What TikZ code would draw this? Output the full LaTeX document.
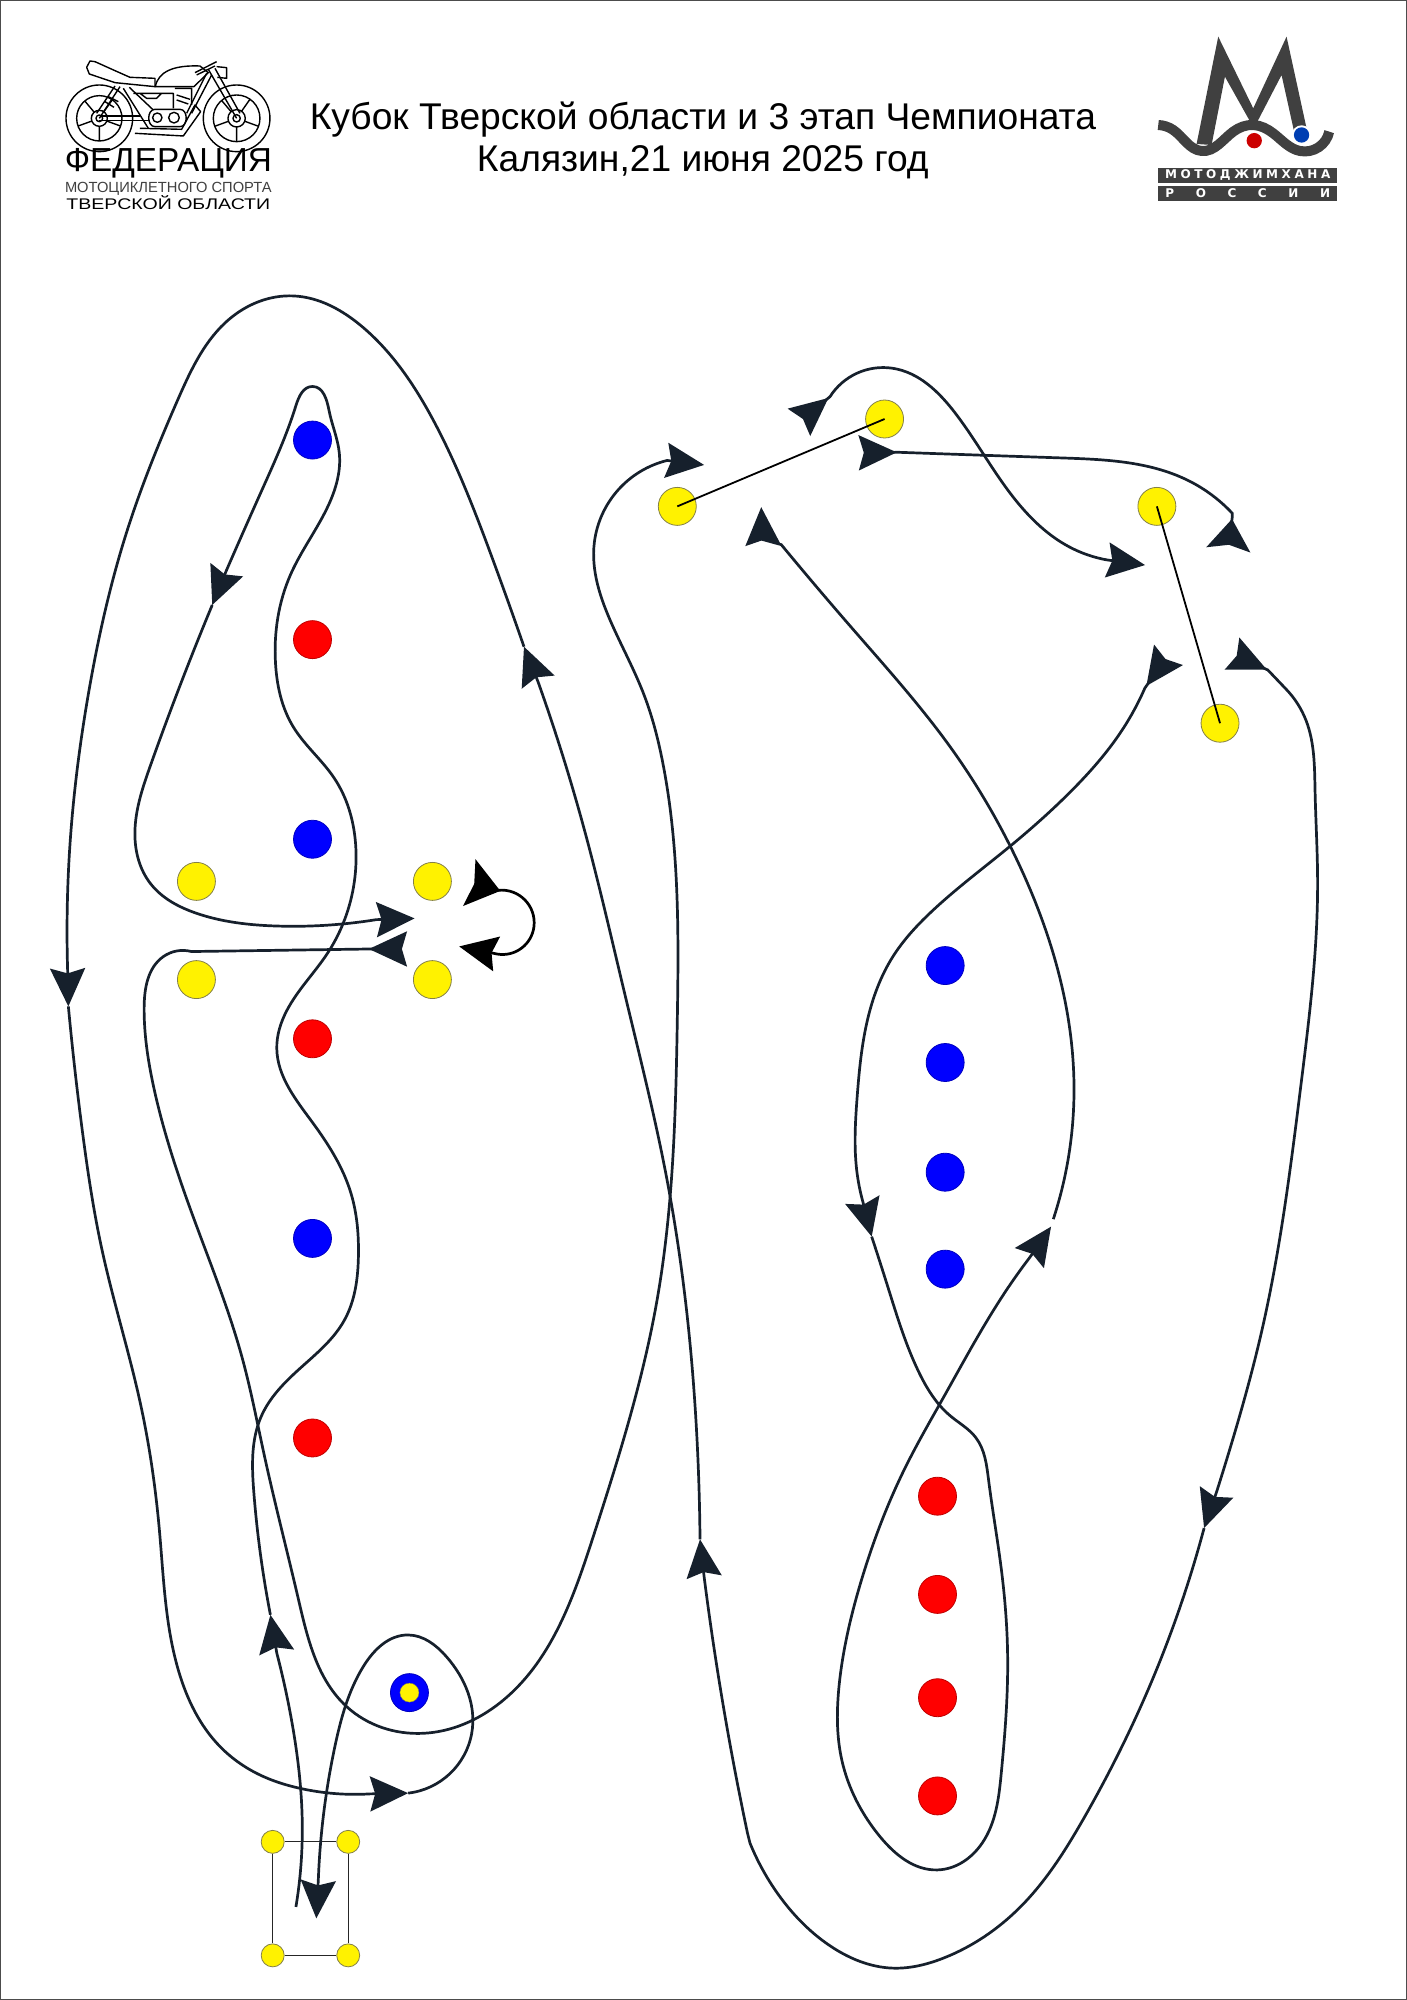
\documentclass[tikz,border=0pt]{standalone}
\usepackage{graphicx}
\usepackage{fontspec}
\setmainfont{Liberation Sans}
\newfontfamily\logofont{DejaVu Sans}
\usetikzlibrary{arrows.meta}
\usetikzlibrary{hobby}
\definecolor{routeink}{HTML}{16202C}
\definecolor{logogray}{HTML}{404040}
\tikzstyle{yellowdot}=[circle, draw=yellow!45!black, line width=0.8pt, fill=yellow, minimum size=38pt, inner sep=0pt]
\tikzstyle{bluedot}=[circle, draw=blue!75!black, line width=0.8pt, fill=blue, minimum size=38pt, inner sep=0pt]
\tikzstyle{reddot}=[circle, draw=red!75!black, line width=0.8pt, fill=red, minimum size=38pt, inner sep=0pt]
\tikzstyle{smalldot}=[yellowdot, minimum size=23pt]
\tikzstyle{route}=[draw=routeink, line width=2.7pt, use Hobby shortcut]
\tikzstyle{gate}=[draw=black, line width=1.8pt]
\tikzstyle{boxline}=[draw=black!85, line width=1pt]
\tikzstyle{bike}=[draw=black, line width=1.4pt, line join=round]
\begin{document}
\begin{tikzpicture}[x=1.2756pt,y=-1.2756pt,node distance=199.6pt,>={Stealth[length=38pt,width=35pt,inset=5pt]}]
\useasboundingbox (0,0) rectangle (1103,1568);
\draw[draw=black!70, line width=2pt] (0,0) rectangle (1103,1568);

% title
\node[align=center, font=\fontsize{37.2}{42}\selectfont] (title) at (551,110) {Кубок Тверской области и 3 этап Чемпионата\\Калязин,21 июня 2025 год};

% left logo
\begin{scope}[shift={(40pt,-30pt)},x=0.3333pt,y=-0.3333pt]
\draw[bike] (178,265) circle (100) (178,265) circle (68) (178,265) circle (24) (178,265) circle (10);
\draw[bike] (590,265) circle (100) (590,265) circle (70) (590,265) circle (26) (590,265) circle (11);
\draw[bike] (178,265) ++(20:24) -- ++(20:44) (178,265) ++(90:24) -- ++(90:44) (178,265) ++(160:24) -- ++(160:44) (178,265) ++(230:24) -- ++(230:44) (178,265) ++(305:24) -- ++(305:44);
\draw[bike] (590,265) ++(20:26) -- ++(20:44) (590,265) ++(90:26) -- ++(90:44) (590,265) ++(160:26) -- ++(160:44) (590,265) ++(230:26) -- ++(230:44) (590,265) ++(305:26) -- ++(305:44);
\draw[bike] (140,112) -- (150,93) -- (165,95) -- (225,122) -- (270,142) -- (345,145) -- (345,170) -- (225,158) -- (148,132) -- cycle;
\draw[bike] (346,170) .. controls (355,125) and (400,105) .. (480,108) -- (505,128) -- (462,170) -- cycle;
\draw[bike] (465,128) -- (530,95) (470,135) -- (525,108) (530,110) -- (560,113) -- (560,145) -- (532,142);
\draw[bike] (505,118) -- (590,265) (525,115) -- (600,250);
\draw[bike] (500,130) -- (440,250) (515,135) -- (455,250);
\draw[bike] (240,170) -- (178,265) (225,168) -- (170,250) (205,200) -- (235,215) (195,215) -- (222,232);
\draw[bike] (250,175) -- (325,295) (268,172) -- (340,240);
\draw[bike] (178,272) -- (330,272) (185,258) -- (300,258);
\draw[bike] (280,190) -- (400,190) -- (400,235) (300,190) -- (320,205) -- (350,205) -- (365,190);
\draw[bike] (405,175) -- (455,175) -- (455,225) (410,195) -- (450,208) (410,210) -- (445,222);
\draw[bike] (345,238) -- (420,238) .. controls (445,238) and (445,290) .. (420,290) -- (345,290) .. controls (320,290) and (320,238) .. (345,238);
\draw[bike] (352,263) circle (14) (402,263) circle (16);
\draw[bike] (285,310) -- (430,318) -- (482,245) -- (465,225) -- (425,298) -- (300,295);
\node[font=\fontsize{33.3}{33.3}\selectfont, inner sep=0pt, anchor=base] (fed) at (385,425) {ФЕДЕРАЦИЯ};
\node[font=\fontsize{14.7}{14.7}\selectfont, text=black!75, inner sep=0pt, anchor=base] (moto) at (385,487) {МОТОЦИКЛЕТНОГО СПОРТА};
\node[font=\fontsize{15.4}{15.4}\selectfont, inner sep=0pt, anchor=base] (tver) at (385,540) {\scalebox{1.27}[1]{ТВЕРСКОЙ ОБЛАСТИ}};
\end{scope}

% right logo
\begin{scope}[shift={(1130pt,-20pt)},x=0.3333pt,y=-0.3333pt]
\fill[logogray] (200,372) -- (265,50) -- (370,265) -- (470,50) -- (530,325) -- (492,332) -- (455,165) -- (372,325) -- (285,170) -- (245,375) -- cycle;
\draw[logogray, line width=10pt, use Hobby shortcut] (85,315) .. (130,330) .. (215,393) .. (310,335) .. (370,315) .. (430,340) .. (510,393) .. (598,335);
\fill[white] (515,345) circle (29);
\fill[red!80!black] (373,362) circle (23);
\fill[blue!65!cyan!70!black] (515,345) circle (23);
\node[fill=logogray, text=white, minimum width=179pt, minimum height=15.7pt, inner sep=0pt, font=\logofont\bfseries\fontsize{12}{12}\selectfont\addfontfeature{LetterSpace=30}] (motoj) at (353.5,466.5) {МОТОДЖИМХАНА};
\node[fill=logogray, text=white, minimum width=179pt, minimum height=15pt, inner sep=0pt, font=\logofont\bfseries\fontsize{12}{12}\selectfont\addfontfeature{LetterSpace=180}] (rus) at (353.5,519.5) {РОССИИ};
\end{scope}

% left column
\node[bluedot] (b1) at (245,345) {};
\node[reddot] (r1) [below of=b1] {};
\node[bluedot] (b2) [below of=r1] {};
\node[reddot] (r2) [below of=b2] {};
\node[bluedot] (b3) [below of=r2] {};
\node[reddot] (r3) [below of=b3] {};
\node[yellowdot] (y1) at (154,691) {};
\node[yellowdot] (y2) at (339,691) {};
\node[yellowdot] (y3) at (154,768) {};
\node[yellowdot] (y4) at (339,768) {};
\node[bluedot] (b4) at (321,1327) {};
\node[yellowdot, minimum size=19pt, line width=0.4pt] (y5) at (321,1327) {};

% start box
\node[smalldot] (s1) at (213.8,1444) {};
\node[smalldot] (s2) at (273,1444) {};
\node[smalldot] (s3) at (213.8,1533) {};
\node[smalldot] (s4) at (273,1533) {};
\draw[boxline] (s1) -- (s2);
\draw[boxline] (s1) -- (s3);
\draw[boxline] (s2) -- (s4);
\draw[boxline] (s3) -- (s4);

% right column
\node[bluedot] (b5) at (741,757) {};
\node[bluedot] (b6) at (741,833) {};
\node[bluedot] (b7) at (741,919) {};
\node[bluedot] (b8) at (741,995) {};
\node[reddot] (r4) at (735,1173) {};
\node[reddot] (r5) at (735,1250) {};
\node[reddot] (r6) at (735,1331) {};
\node[reddot] (r7) at (735,1408) {};
\node[yellowdot] (y6) at (531,397) {};
\node[yellowdot] (y7) at (693.5,328.5) {};
\node[yellowdot] (y8) at (907,397) {};
\node[yellowdot] (y9) at (956.5,567) {};
\draw[gate] (y6.center) -- (y7.center);
\draw[gate] (y8.center) -- (y9.center);

% route, left part
\draw[route,->] (232,1495) .. (237,1432) .. (229,1351) .. (217,1296) -- (212,1266);
\draw[route,->] (212,1266) .. (199,1170) .. (205,1110) .. (235,1073) .. (270,1035) .. (281,985) .. (275,935) .. (245,880) .. (217,822) .. (225,792) .. (257,747) .. (269,724) .. (279,665) .. (262,610) .. (230,570) .. (216,520) .. (228,450) .. (258,395) .. (266,355) .. (258,322) .. (245,303) .. (232,318) .. (205,385) .. (177.6,447) -- (166.4,474.3);
\draw[route,->] (166.4,474.3) .. (118,600) .. (105.8,656) .. (117.8,692.5) .. (154,716) .. (217,726) .. (295,721) -- (325,720);
\draw[route,draw=black,{Stealth[reversed,length=32pt,width=48pt,inset=5pt]}->] (368,692) -- (390.5,698) .. (418.6,726.6) .. (390,748) -- (360,742);
\draw[route,>->] (319,744) -- (290,744) -- (150,746) .. (128,750) .. (113,790) .. (120,850) .. (150,950) .. (190,1065) .. (207,1140) .. (234,1254) .. (271.8,1338) .. (331.8,1358.9) .. (392,1335) .. (465,1205) .. (515,1020) .. (531,800) .. (520,600) .. (505,545) .. (480,490) .. (466,425) .. (523,361) -- (552,364.5);

% route, right part
\draw[route,>->] (626.5,331) -- (650.7,311) .. (699.7,288.7) .. (749,324) .. (792,386.7) .. (838,428.6) .. (868,439) -- (897.7,443);
\draw[route,>-{Stealth[reversed,length=31pt,width=44pt,inset=5pt]}] (673.3,355) -- (704.6,354.6) .. (831.7,359) .. (930.7,376.3) .. (966,402.3) -- (966,406) -- (963,431);
\draw[route,>->] (916,513.5) -- (897.6,539.4) .. (880,572) .. (840,620) .. (790,665) .. (730,715) .. (700,750) .. (680,800) .. (672,860) .. (671.6,917) .. (676.7,943) -- (683.4,969.5);
\draw[route,->] (683.4,969.5) .. (696.4,1010) .. (720,1075) .. (745,1110) .. (765,1127) .. (775,1160) .. (785,1230) .. (790,1300) .. (785,1390) .. (770,1445) .. (735,1466) .. (690,1440) .. (660,1380) .. (658,1320) .. (675,1240) .. (710,1150) .. (740,1095) .. (790,1010) .. (807.5,985.6) -- (824,961.7);
\draw[route,->] (825.8,955.8) .. (842,850) .. (800,680) .. (745.7,586.6) .. (666.7,491) .. (612.5,427) -- (598,423) -- (596.8,397.6);
\draw[route,>->] (966,512.5) -- (994,525.3) -- (1008,540) .. (1024,565) .. (1031,620) .. (1033,690) .. (1020,850) .. (990,1040) .. (964,1136.7) .. (954,1169) -- (944,1198);
\draw[route,->] (944,1198) .. (900,1325) .. (850,1425) .. (800,1495) .. (740,1535) .. (700,1543) .. (650,1525) .. (610,1485) .. (588,1445) -- (586,1437) .. (555.3,1260.9) .. (552,1236) -- (548.8,1206.8);
\draw[route,->] (548.8,1206.8) .. (546,1120) .. (522,920) .. (490,780) .. (458,650) .. (422,535) -- (410.8,507);
\draw[route,->] (410.8,507) .. (385,435) .. (340,330) .. (285,257) .. (230,232) .. (180,250) .. (140,312) .. (100,415) .. (70,540) .. (55,660) .. (53,760) -- (53.6,789);
\draw[route,->] (53.6,789) .. (65,890) .. (80,980) .. (110,1100) .. (125,1200) .. (140,1310) .. (172.5,1369.3) .. (206.5,1392.8) .. (235,1402) .. (290,1406.4) -- (320,1405.8);
\draw[route,->] (320,1405.8) .. (369.8,1359) .. (350,1298.8) .. (320,1281.8) .. (284.8,1306.6) .. (262.6,1369) .. (249.6,1472.8) -- (248,1504);
\end{tikzpicture}
\end{document}
